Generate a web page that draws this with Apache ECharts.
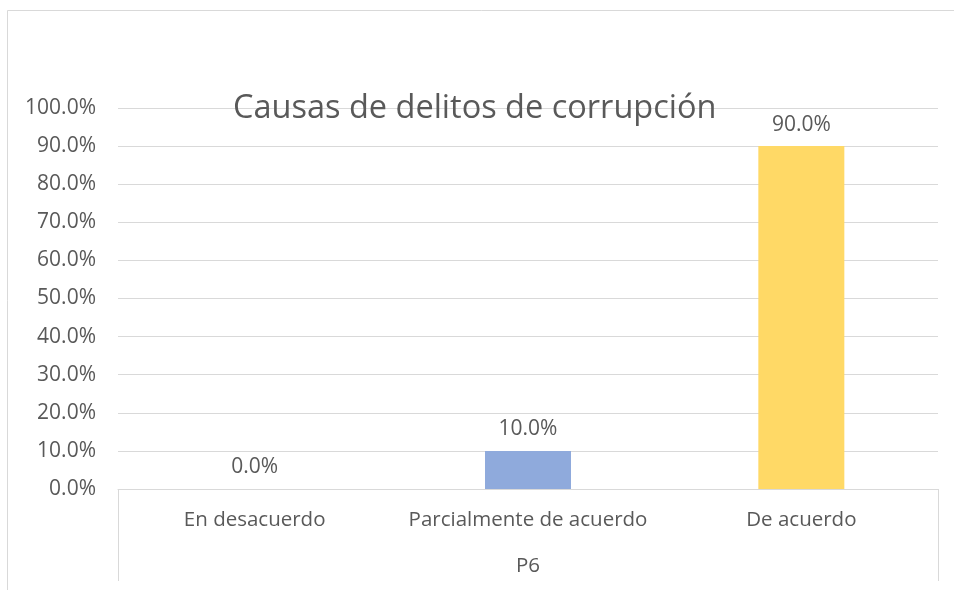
<!DOCTYPE html>
<html>
<head>
<meta charset="utf-8">
<script src="https://cdn.jsdelivr.net/npm/echarts@6/dist/echarts.min.js"></script>
<style>html,body{margin:0;padding:0;background:#fff;}#c{width:954px;height:590px;}</style>
</head>
<body>
<div id="c"></div>
<script>
var categories = ['En desacuerdo', 'Parcialmente de acuerdo', 'De acuerdo'];
var groupLabels = ['P6'];
var values = [0, 0.1, 0.9];
var barColors = ['#8FAADC', '#8FAADC', '#FFD966'];
var titleText = 'Causas de delitos de corrupción';
var FONT = '"Open Sans", sans-serif';
var TXT = '#595959';
var GRID = '#d9d9d9';
function pct(v){ return (v*100).toFixed(1) + '%'; }

var chart = echarts.init(document.getElementById('c'), null, {renderer:'canvas'});
chart.setOption({
  animation: false,
  backgroundColor: '#fff',
  title: {
    text: titleText, left: 228, top: 87,
    textStyle: {fontFamily: FONT, fontSize: 32.5, fontWeight: 'normal', color: TXT}
  },
  graphic: [{
    type: 'rect', silent: true, z: -10,
    shape: {x: 7.5, y: 10.5, width: 1200, height: 1200},
    style: {fill: 'none', stroke: GRID, lineWidth: 1}
  }],
  grid: {left: 118, right: 16, top: 108, bottom: 101},
  xAxis: [{
    type: 'category', data: categories, position: 'bottom',
    axisLine: {show: true, lineStyle: {color: GRID, width: 1}},
    axisTick: {show: false},
    axisLabel: {interval: 0, margin: 21, fontFamily: FONT, fontSize: 20.5, color: TXT}
  }, {
    type: 'category', data: groupLabels, position: 'bottom',
    axisLine: {show: false},
    axisTick: {show: true, length: 92, lineStyle: {color: GRID, width: 1}},
    axisLabel: {interval: 0, margin: 67, fontFamily: FONT, fontSize: 20.5, color: TXT}
  }],
  yAxis: {
    type: 'value', min: 0, max: 1, interval: 0.1,
    axisLine: {show: false}, axisTick: {show: false},
    splitLine: {lineStyle: {color: GRID, width: 1}},
    axisLabel: {margin: 22, fontFamily: FONT, fontSize: 21, color: TXT, formatter: pct}
  },
  series: [{
    type: 'bar', xAxisIndex: 0, barWidth: 86,
    data: values.map(function(v, i){ return {value: v, itemStyle: {color: barColors[i]}}; }),
    label: {show: true, position: 'top', distance: 11, fontFamily: FONT, fontSize: 21, color: TXT,
      formatter: function(p){ return pct(p.value); }}
  }]
});
</script>
</body>
</html>
